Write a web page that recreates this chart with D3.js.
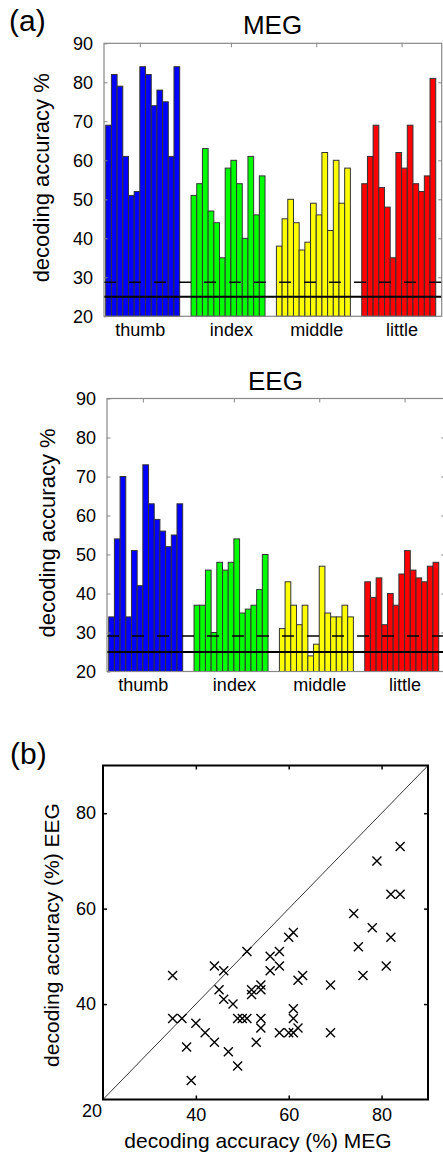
<!DOCTYPE html>
<html>
<head>
<meta charset="utf-8">
<script src="https://cdn.jsdelivr.net/npm/d3@7"></script>
<style>
  body { margin: 0; background: #fff; }
  text { font-family: "Liberation Sans", Arial, Helvetica, sans-serif; fill: #000; }
</style>
</head>
<body>
<div id="my_dataviz"></div>
<script>
// categories and colours
var fingers = ["thumb", "index", "middle", "little"];
var fingerColors = ["#0000ff", "#00ff00", "#ffff00", "#ff0000"];

// decoding accuracy (%) for the 13 subjects, MEG
var megThumb  = [69, 82, 79, 61, 51, 52, 84, 82, 74, 78, 75, 61, 84];
var megIndex  = [51, 54, 63, 47, 44, 35, 58, 60, 54, 40, 61, 46, 56];
var megMiddle = [38, 45, 50, 44, 37, 39, 49, 46, 62, 42, 60, 49, 58];
var megLittle = [54, 61, 69, 53, 48, 35, 62, 58, 69, 54, 52, 56, 81];

// same subjects, EEG
var eegThumb  = [34, 54, 70, 34, 51, 42, 73, 63, 59, 56, 52, 55, 63];
var eegIndex  = [37, 37, 46, 30, 48, 46, 48, 54, 35, 36, 37, 41, 50];
var eegMiddle = [31, 43, 37, 32, 37, 24, 27, 47, 35, 34, 34, 37, 34];
var eegLittle = [43, 39, 44, 32, 40, 37, 45, 51, 46, 44, 43, 47, 48];

// points of panel (b) (x = MEG, y = EEG)
var scatterMeg = [69, 82, 79, 61, 51, 52, 84, 82, 74, 78, 75, 61, 84,
                  51, 54, 63, 47, 44, 35, 58, 60, 54, 40, 61, 46, 56,
                  38, 45, 50, 44, 37, 39, 49, 46, 62, 42, 60, 49, 58,
                  54, 61, 69, 53, 48, 35, 62, 58, 76, 54, 52, 56, 81];
var scatterEeg = [34, 54, 70, 34, 51, 42, 73, 63, 59, 56, 52, 55, 63,
                  37, 37, 46, 30, 48, 46, 48, 54, 35, 36, 37, 41, 50,
                  31, 43, 37, 32, 37, 24, 27, 47, 35, 34, 34, 37, 34,
                  43, 39, 44, 32, 40, 37, 45, 51, 46, 44, 43, 47, 48];

// chance level and significance thresholds
var chanceLevel = 25;
var megThreshold = 28.7;
var eegThreshold = 29.1;

// ticks
var barYTicks = [20, 30, 40, 50, 60, 70, 80, 90];
var fingerTickSlots = [6, 22, 37, 52];
var scatterTicks = [40, 60, 80];

var width = 443,
    height = 1155,
    slotsPerFinger = 15;

var svg = d3.select("#my_dataviz")
  .append("svg")
    .attr("width", width)
    .attr("height", height);

// panel labels
svg.append("text").attr("x", 9).attr("y", 31).style("font-size", "30px").text("(a)");
svg.append("text").attr("x", 10).attr("y", 764).style("font-size", "30px").text("(b)");

function drawBarPanel(p) {
  var x = d3.scaleLinear().domain([-0.3, 59.05]).range([p.left, p.right]);
  var y = d3.scaleLinear().domain([20, 90]).range([p.bottom, p.top]);
  var g = svg.append("g");

  // bars, one group of 13 per finger
  p.series.forEach(function(vals, f) {
    g.selectAll(null)
      .data(vals)
      .enter()
      .append("rect")
        .attr("x", function(d, i) { return x(f * slotsPerFinger + i); })
        .attr("width", x(1) - x(0))
        .attr("y", function(d) { return y(d); })
        .attr("height", function(d) { return y(20) - y(d); })
        .attr("fill", fingerColors[f])
        .attr("stroke", "#333")
        .attr("stroke-width", 1);
  });

  // significance threshold (dashed) and chance level (solid)
  g.append("line")
    .attr("x1", x.range()[0]).attr("x2", x.range()[1])
    .attr("y1", y(p.threshold)).attr("y2", y(p.threshold))
    .attr("stroke", "#000").attr("stroke-width", 1.5)
    .attr("stroke-dasharray", "12,13");
  g.append("line")
    .attr("x1", x.range()[0]).attr("x2", x.range()[1])
    .attr("y1", y(chanceLevel)).attr("y2", y(chanceLevel))
    .attr("stroke", "#000").attr("stroke-width", 2);

  // axis box
  g.append("rect")
    .attr("x", x.range()[0]).attr("y", y.range()[1])
    .attr("width", x.range()[1] - x.range()[0])
    .attr("height", y.range()[0] - y.range()[1])
    .attr("fill", "none").attr("stroke", "#888").attr("stroke-width", 1.2);

  var left = g.append("g")
    .attr("transform", "translate(" + x.range()[0] + ",0)")
    .call(d3.axisLeft(y).tickValues(barYTicks).tickSize(-3.5).tickPadding(11));
  left.attr("font-size", 18);
  left.select(".domain").remove();
  left.selectAll("line").attr("stroke", "#888");

  var right = g.append("g")
    .attr("transform", "translate(" + x.range()[1] + ",0)")
    .call(d3.axisRight(y).tickValues(barYTicks.slice(1, -1)).tickSize(-3.5).tickFormat(""));
  right.select(".domain").remove();
  right.selectAll("line").attr("stroke", "#888");

  var top = g.append("g")
    .attr("transform", "translate(0," + y.range()[1] + ")")
    .call(d3.axisTop(x).tickValues(fingerTickSlots).tickSize(-4).tickFormat(""));
  top.select(".domain").remove();
  top.selectAll("line").attr("stroke", "#888");

  var bottom = g.append("g")
    .attr("transform", "translate(0," + y.range()[0] + ")")
    .call(d3.axisBottom(x).tickValues(fingerTickSlots).tickSize(0).tickPadding(7)
      .tickFormat(function(d, i) { return fingers[i]; }));
  bottom.attr("font-size", 18);
  bottom.select(".domain").remove();

  // title and y label
  g.append("text")
    .attr("x", p.titleX).attr("y", p.titleY)
    .attr("text-anchor", "middle")
    .style("font-size", "26px")
    .text(p.title);
  g.append("text")
    .attr("transform", "translate(" + p.labelX + "," + (y(55) - 2) + ") rotate(-90)")
    .attr("text-anchor", "middle")
    .style("font-size", "22px")
    .text("decoding accuracy %");
}

drawBarPanel({
  series: [megThumb, megIndex, megMiddle, megLittle],
  threshold: megThreshold,
  left: 104, right: 441.7, top: 43.3, bottom: 316.3,
  title: "MEG", titleX: 272.5, titleY: 34,
  labelX: 49
});

drawBarPanel({
  series: [eegThumb, eegIndex, eegMiddle, eegLittle],
  threshold: eegThreshold,
  left: 107, right: 444.7, top: 398.5, bottom: 671.5,
  title: "EEG", titleX: 275.5, titleY: 390,
  labelX: 55
});

// (b) scatter: MEG vs EEG
var pairs = scatterMeg.map(function(m, i) { return { meg: m, eeg: scatterEeg[i] }; });

var xs = d3.scaleLinear().domain([20, 90]).range([103, 428]);
var ys = d3.scaleLinear().domain([20, 90]).range([1099.5, 765.5]);
var sg = svg.append("g");

sg.append("line")
  .attr("x1", xs(20)).attr("y1", ys(20))
  .attr("x2", xs(90)).attr("y2", ys(90))
  .attr("stroke", "#000").attr("stroke-width", 0.8);

sg.selectAll(".cross")
  .data(pairs)
  .enter()
  .append("path")
    .attr("class", "cross")
    .attr("transform", function(d) { return "translate(" + xs(d.meg) + "," + ys(d.eeg) + ")"; })
    .attr("d", "M-4.5,-4.5L4.5,4.5M-4.5,4.5L4.5,-4.5")
    .attr("stroke", "#000")
    .attr("stroke-width", 1.4)
    .attr("fill", "none");

sg.append("rect")
  .attr("x", xs(20)).attr("y", ys(90))
  .attr("width", xs(90) - xs(20)).attr("height", ys(20) - ys(90))
  .attr("fill", "none").attr("stroke", "#000").attr("stroke-width", 2);

var sb = sg.append("g")
  .attr("transform", "translate(0," + ys(20) + ")")
  .call(d3.axisBottom(xs).tickValues(scatterTicks).tickSize(-4).tickPadding(9));
var st = sg.append("g")
  .attr("transform", "translate(0," + ys(90) + ")")
  .call(d3.axisTop(xs).tickValues(scatterTicks).tickSize(-4).tickFormat(""));
var sl = sg.append("g")
  .attr("transform", "translate(" + xs(20) + ",0)")
  .call(d3.axisLeft(ys).tickValues(scatterTicks).tickSize(-4).tickPadding(7));
var sr = sg.append("g")
  .attr("transform", "translate(" + xs(90) + ",0)")
  .call(d3.axisRight(ys).tickValues(scatterTicks).tickSize(-4).tickFormat(""));
[sb, st, sl, sr].forEach(function(a) {
  a.attr("font-size", 18);
  a.select(".domain").remove();
  a.selectAll("line").attr("stroke", "#000").attr("stroke-width", 1.5);
});

// shared corner label
sg.append("text")
  .attr("x", xs(20) - 11).attr("y", ys(20) + 17)
  .attr("text-anchor", "middle")
  .style("font-size", "18px")
  .text(xs.domain()[0]);

sg.append("text")
  .attr("x", 258).attr("y", 1148)
  .attr("text-anchor", "middle")
  .style("font-size", "21px")
  .text("decoding accuracy (%) MEG");
sg.append("text")
  .attr("transform", "translate(59," + 935 + ") rotate(-90)")
  .attr("text-anchor", "middle")
  .style("font-size", "21px")
  .text("decoding accuracy (%) EEG");
</script>
</body>
</html>
